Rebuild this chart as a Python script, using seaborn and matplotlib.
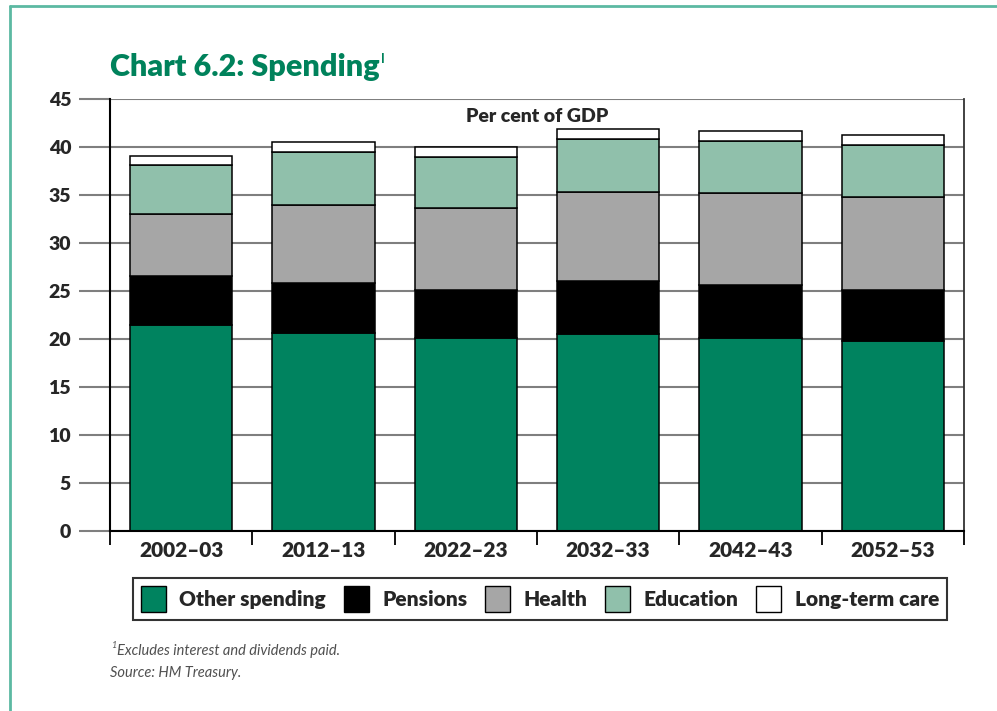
import matplotlib
matplotlib.use("Agg")
import matplotlib.pyplot as plt
from matplotlib.patches import Patch
from matplotlib.lines import Line2D
import numpy as np
import pandas as pd
import seaborn as sns

# Spending components, per cent of GDP
years = ["2002–03", "2012–13", "2022–23", "2032–33", "2042–43", "2052–53"]
other_spending = [21.5, 20.6, 20.1, 20.5, 20.15, 19.75]
pensions = [5.1, 5.25, 5.05, 5.55, 5.45, 5.4]
health = [6.45, 8.1, 8.5, 9.25, 9.6, 9.65]
education = [5.1, 5.5, 5.3, 5.5, 5.4, 5.4]
long_term_care = [0.9, 1.1, 1.1, 1.1, 1.1, 1.1]

series_names = ["Other spending", "Pensions", "Health", "Education", "Long-term care"]
series_colors = ["#00835F", "#000000", "#A6A6A6", "#90C0AB", "#FFFFFF"]
y_ticks = [0, 5, 10, 15, 20, 25, 30, 35, 40, 45]

df = pd.DataFrame({
    "year": years,
    "Other spending": other_spending,
    "Pensions": pensions,
    "Health": health,
    "Education": education,
    "Long-term care": long_term_care,
})

sns.set_style("white")
plt.rcParams["font.family"] = ["Lato", "DejaVu Sans"]

W, H = 997, 711
fig = plt.figure(figsize=(W / 100, H / 100), dpi=100)
ax = fig.add_axes([110 / W, 1 - 531 / H, (964 - 110) / W, (531 - 99) / H])

grey = "#7F7F7F"
label_weight = "heavy"

# stacked bars
bottom = np.zeros(len(years))
for name, color in zip(series_names, series_colors):
    sns.barplot(data=df, x="year", y=name, bottom=bottom, color=color,
                edgecolor="black", linewidth=1.1, width=0.72, ax=ax,
                saturation=1, zorder=3)
    bottom = bottom + df[name].to_numpy()

ax.set_xlim(-0.5, len(years) - 0.5)
ax.set_ylim(0, 45)
ax.set_yticks(y_ticks)
ax.set_yticklabels([str(v) for v in y_ticks], fontsize=14, fontweight=label_weight)
ax.yaxis.grid(True, color=grey, linewidth=1.5, zorder=0)
ax.set_axisbelow(True)
ax.tick_params(axis="y", direction="out", length=22, width=1.5, color=grey,
               pad=6, left=True)

# category boundary ticks on the x axis
ax.set_xticks(range(len(years)))
ax.set_xticklabels(years, fontsize=15, fontweight=label_weight)
ax.set_xticks(np.arange(-0.5, len(years), 1.0), minor=True)
ax.tick_params(axis="x", which="major", length=0, pad=7)
ax.tick_params(axis="x", which="minor", direction="out", length=10,
               width=1.3, color="black", bottom=True)

ax.set_xlabel("")
ax.set_ylabel("")

for side in ["left", "bottom"]:
    ax.spines[side].set_color("black")
    ax.spines[side].set_linewidth(1.5)
ax.spines["right"].set_color("#333333")
ax.spines["right"].set_linewidth(1.3)
ax.spines["top"].set_visible(False)
ax.spines["bottom"].set_zorder(4)

ax.text(0.5, 43.2, "Per cent of GDP", transform=ax.get_yaxis_transform(),
        ha="center", va="center", fontsize=14, fontweight=label_weight)

# legend
handles = [Patch(facecolor=c, edgecolor="black", linewidth=1.0)
           for c in series_colors]
leg = fig.legend(handles, series_names, ncol=5, loc="center",
                 bbox_to_anchor=(540 / W, 1 - 599 / H),
                 frameon=True, fancybox=False, edgecolor="black",
                 prop={"family": "Lato", "weight": label_weight, "size": 15},
                 handlelength=1.2, handleheight=1.6, handletextpad=0.65,
                 columnspacing=0.85, borderpad=0.35, borderaxespad=0)
leg.get_frame().set_linewidth(1.5)

# title
green = "#00825B"
title = fig.text(110 / W, 1 - 67 / H, "Chart 6.2: Spending", color=green,
                 fontsize=22, fontweight=label_weight, ha="left", va="center")
ax.annotate("I", xy=(1.0, 0.80), xycoords=title, xytext=(1, 0),
            textcoords="offset points", color=green, fontsize=9,
            fontweight="bold", ha="left", va="center")

# footnotes
note_color = "#505050"
fig.text(111 / W, 1 - 646 / H, "1", fontsize=6.5, style="italic",
         color=note_color, ha="left", va="center")
fig.text(117 / W, 1 - 651 / H, "Excludes interest and dividends paid.",
         fontsize=10.5, style="italic", color=note_color, ha="left",
         va="center")
fig.text(110 / W, 1 - 673 / H, "Source: HM Treasury.", fontsize=10.5,
         style="italic", color=note_color, ha="left", va="center")

# frame lines along the top and left edges
frame_color = "#5CB9A2"
fig.add_artist(Line2D([9.5 / W, 9.5 / W], [0, 1 - 5.5 / H],
                      transform=fig.transFigure, color=frame_color, lw=2))
fig.add_artist(Line2D([9.5 / W, 1], [1 - 5.5 / H, 1 - 5.5 / H],
                      transform=fig.transFigure, color=frame_color, lw=2))

fig.savefig("out.png", dpi=100)
